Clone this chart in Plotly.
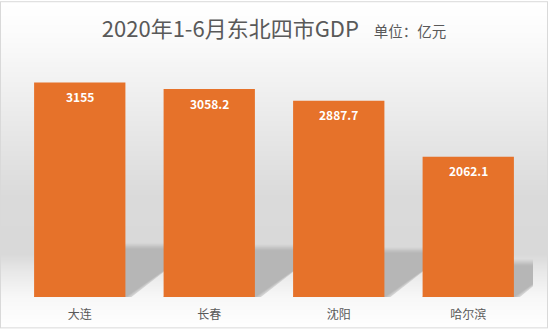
import base64
import struct
import zlib

import numpy as np
import plotly.graph_objects as go

# Half-year GDP of the four north-eastern cities (unit: 100 million yuan)
cities = ["大连", "长春", "沈阳", "哈尔滨"]
gdp = [3155, 3058.2, 2887.7, 2062.1]
value_labels = ["3155", "3058.2", "2887.7", "2062.1"]

W, H = 548, 334
M_L, M_R, M_T, M_B = 15, 15, 59, 32
PLOT_W = W - M_L - M_R
PLOT_H = H - M_T - M_B

BAR_GAP = 0.295
BAR_W = 1 - BAR_GAP
Y_MAX = 3500
N_CAT = len(cities)

# Data units per screen pixel on each axis
X_PER_PX = N_CAT / PLOT_W
Y_PER_PX = Y_MAX / PLOT_H

# Cast shadow proportions (height as share of bar value, skew per unit of value)
SHADOW_RATIO = 0.225
SHADOW_SKEW = 0.54 / 3155


def png_data_uri(rgb):
    h, w, _ = rgb.shape
    raw = b"".join(b"\x00" + rgb[r].tobytes() for r in range(h))

    def chunk(tag, data):
        return (struct.pack(">I", len(data)) + tag + data
                + struct.pack(">I", zlib.crc32(tag + data) & 0xFFFFFFFF))

    png = (b"\x89PNG\r\n\x1a\n"
           + chunk(b"IHDR", struct.pack(">IIBBBBB", w, h, 8, 2, 0, 0, 0))
           + chunk(b"IDAT", zlib.compress(raw, 9))
           + chunk(b"IEND", b""))
    return "data:image/png;base64," + base64.b64encode(png).decode()


# Backdrop: white at the top fading to grey, with a lighter floor under the bars
ys = np.arange(H)
stops_y = [0, 30, 200, 258, 275, 300, 334]
stops_v = [255, 252, 218, 217, 232, 247, 255]
levels = np.interp(ys, stops_y, stops_v).round().astype(np.uint8)
bg = np.repeat(levels[:, None], W, axis=1)
bg = np.stack([bg, bg, bg], axis=2)
border = 217
bg[0, :, :] = border
bg[-1, :, :] = border
bg[:, 0, :] = border
bg[:, -1, :] = border
bg_uri = png_data_uri(np.ascontiguousarray(bg))

fig = go.Figure()

fig.add_trace(go.Bar(
    x=list(range(N_CAT)),
    y=gdp,
    marker=dict(color="#E6722A", line=dict(width=0)),
    hoverinfo="skip",
))

# Value labels sitting just inside the top of each bar
for i, (v, lab) in enumerate(zip(gdp, value_labels)):
    fig.add_annotation(
        x=i, y=v, text=lab, showarrow=False,
        yanchor="middle", yshift=-14,
        font=dict(family="Noto Sans CJK SC", size=12, color="white", weight="bold"),
    )

# Soft skewed shadows thrown behind each bar: feathered edge built from layers
feather = [(6, 214), (5, 209), (4, 203), (3, 197), (2, 191), (1, 186), (0, 182)]
for i, v in enumerate(gdp):
    x0 = i - BAR_W / 2
    x1 = i + BAR_W / 2
    h = SHADOW_RATIO * v
    dx = SHADOW_SKEW * v
    for e, g in feather:
        ex = e * X_PER_PX
        ey = e * Y_PER_PX
        fig.add_shape(
            type="path",
            path=(f"M {x0},0 L {x1 + ex},0 L {x1 + dx + ex},{h + ey} "
                  f"L {x0 + dx},{h + ey} Z"),
            xref="x", yref="y", layer="below",
            fillcolor=f"rgb({g},{g},{g})", line=dict(width=0),
        )

fig.add_layout_image(
    source=bg_uri,
    xref="paper", yref="paper",
    x=-M_L / PLOT_W, y=1 + M_T / PLOT_H,
    sizex=W / PLOT_W, sizey=H / PLOT_H,
    xanchor="left", yanchor="top",
    sizing="stretch", layer="below",
)

fig.update_layout(
    width=W, height=H,
    margin=dict(l=M_L, r=M_R, t=M_T, b=M_B),
    paper_bgcolor="white",
    plot_bgcolor="rgba(0,0,0,0)",
    bargap=BAR_GAP,
    showlegend=False,
    title=dict(
        text="2020年1-6月东北四市GDP&nbsp;&nbsp;&nbsp;<span style='font-size:14.5px'>单位：亿元</span>",
        x=0.5, xref="container", xanchor="center",
        y=1 - 29 / H, yref="container", yanchor="middle",
        font=dict(family="Noto Sans CJK SC", size=22, color="#595959"),
    ),
    xaxis=dict(
        range=[-0.5, N_CAT - 0.5],
        tickvals=list(range(N_CAT)),
        ticktext=cities,
        showgrid=False, zeroline=False, showline=False, ticks="",
        ticklabelstandoff=9,
        tickfont=dict(family="Noto Sans CJK SC", size=12, color="#595959"),
        fixedrange=True,
    ),
    yaxis=dict(
        range=[0, Y_MAX],
        visible=False, showgrid=False, zeroline=False,
        fixedrange=True,
    ),
)

fig.write_html("out.html")
